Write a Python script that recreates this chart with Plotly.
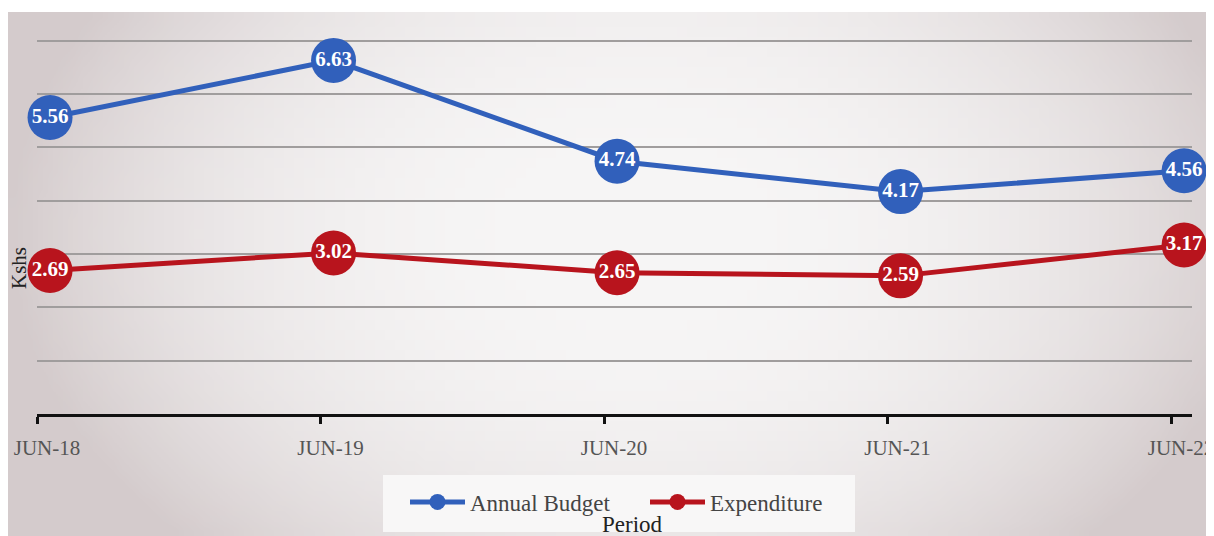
import base64
import struct
import zlib

import plotly.graph_objects as go

periods = ["JUN-18", "JUN-19", "JUN-20", "JUN-21", "JUN-22"]
annual_budget = [5.56, 6.63, 4.74, 4.17, 4.56]
expenditure = [2.69, 3.02, 2.65, 2.59, 3.17]

BLUE = "#3160bb"
RED = "#b8141d"
SERIF = "Liberation Serif"

# The page body has an 8px margin, so the figure sits at (8, 8) in the window.
W, H = 1206, 528
L, R, T, B = 29, 22, 30, 122
pw, ph = W - L - R, H - T - B


def px(p):
    return (p - L) / pw


def py(p):
    return (H - B - p) / ph


def vignette_png(w=120, h=52):
    c_in = (247, 246, 246)
    c_out = (212, 203, 204)
    rows = b""
    for j in range(h):
        v = j / (h - 1)
        row = b"\x00"
        for i in range(w):
            u = i / (w - 1)
            dx = (u - 0.52) / 0.5
            dy = (v - 0.42) / 0.58
            t = min(1.0, 0.9 * dx * dx + 0.45 * dy * dy) ** 1.3
            row += bytes(int(c_in[k] + (c_out[k] - c_in[k]) * t) for k in range(3))
        rows += row

    def chunk(tag, data):
        return struct.pack(">I", len(data)) + tag + data + struct.pack(">I", zlib.crc32(tag + data) & 0xffffffff)

    png = b"\x89PNG\r\n\x1a\n" + chunk(b"IHDR", struct.pack(">IIBBBBB", w, h, 8, 2, 0, 0, 0))
    png += chunk(b"IDAT", zlib.compress(rows, 9)) + chunk(b"IEND", b"")
    return "data:image/png;base64," + base64.b64encode(png).decode()


idx = list(range(len(periods)))
tick_offset = -0.046

fig = go.Figure()
for name, vals, col in [("Annual Budget", annual_budget, BLUE), ("Expenditure", expenditure, RED)]:
    fig.add_trace(go.Scatter(
        x=idx, y=vals, name=name, mode="lines+markers+text",
        line=dict(color=col, width=5),
        marker=dict(color=col, size=45),
        text=[f"{v:.2f}" for v in vals], textposition="middle center",
        textfont=dict(family=SERIF, size=21, color="white", weight="bold"),
        cliponaxis=False,
    ))

fig.update_layout(
    width=W, height=H,
    margin=dict(l=L, r=R, t=T, b=B),
    paper_bgcolor="white", plot_bgcolor="rgba(0,0,0,0)",
    showlegend=True,
    legend=dict(orientation="h", x=px(397), xanchor="left", y=py(494), yanchor="middle",
                bgcolor="rgba(0,0,0,0)", font=dict(family=SERIF, size=23, color="#444"),
                itemwidth=55, entrywidth=170),
    xaxis=dict(range=[-0.046, 4.028], tickmode="array", automargin=False,
               tickvals=[i + tick_offset for i in idx], ticktext=periods,
               showgrid=False, zeroline=False, showline=True, linecolor="#111", linewidth=3,
               ticks="outside", ticklen=7, tickwidth=3, tickcolor="#111",
               ticklabelshift=10, ticklabelstandoff=6, ticklabeloverflow="allow",
               tickfont=dict(family=SERIF, size=21, color="#555")),
    yaxis=dict(range=[0, 7.05], dtick=1, showticklabels=False, showgrid=True, automargin=False,
               gridcolor="#a09d9d", gridwidth=2, zeroline=False, showline=False),
    annotations=[
        dict(text="Kshs", textangle=-90, xref="paper", yref="paper",
             x=px(11), y=py(260), xanchor="center", yanchor="middle", showarrow=False,
             font=dict(family=SERIF, size=21, color="#222")),
        dict(text="Period", xref="paper", yref="paper",
             x=px(624), y=py(516), xanchor="center", yanchor="middle", showarrow=False,
             font=dict(family=SERIF, size=23, color="#222")),
    ],
    images=[dict(source=vignette_png(), xref="paper", yref="paper",
                 x=px(0), y=py(4), sizex=W / pw, sizey=(H - 4) / ph,
                 xanchor="left", yanchor="top", sizing="stretch", layer="below")],
    shapes=[dict(type="rect", xref="paper", yref="paper", x0=px(375), x1=px(847),
                 y0=py(524), y1=py(467), fillcolor="#f8f7f7", line=dict(width=0), layer="below")],
)

fig.write_html("out.html")
